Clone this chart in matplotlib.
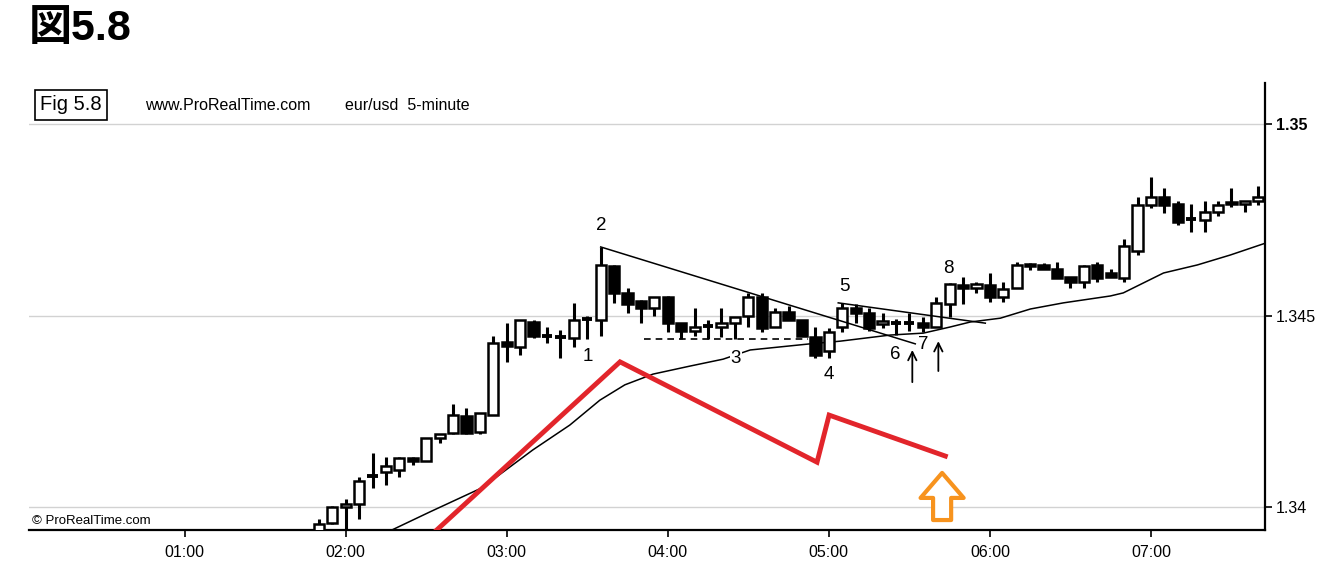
import matplotlib
matplotlib.use('Agg')
import matplotlib.pyplot as plt
import numpy as np

plt.rcParams['font.family'] = ['Liberation Sans', 'DejaVu Sans']

# 5-minute bars, first bar at 01:50 (minutes after midnight)
first_bar = 110
bar_step = 5

opens = [1.33935, 1.33958, 1.34000, 1.34008, 1.34082, 1.34091, 1.34097, 1.34128, 1.34120, 1.34180,
         1.34193, 1.34238, 1.34196, 1.34240, 1.34431, 1.34418, 1.34483, 1.34446, 1.34444, 1.34441,
         1.34491, 1.34488, 1.34629, 1.34559, 1.34538, 1.34520, 1.34548, 1.34480, 1.34460, 1.34473,
         1.34470, 1.34480, 1.34499, 1.34548, 1.34470, 1.34509, 1.34488, 1.34444, 1.34407, 1.34470,
         1.34520, 1.34507, 1.34478, 1.34481, 1.34481, 1.34480, 1.34470, 1.34530, 1.34580, 1.34572,
         1.34580, 1.34548, 1.34572, 1.34634, 1.34632, 1.34621, 1.34601, 1.34587, 1.34632, 1.34611,
         1.34598, 1.34668, 1.34789, 1.34809, 1.34791, 1.34752, 1.34749, 1.34770, 1.34796, 1.34791,
         1.34799]
highs = [1.33969, 1.34003, 1.34021, 1.34078, 1.34141, 1.34131, 1.34131, 1.34131, 1.34180, 1.34191,
         1.34269, 1.34258, 1.34245, 1.34446, 1.34480, 1.34488, 1.34488, 1.34470, 1.34462, 1.34533,
         1.34499, 1.34679, 1.34632, 1.34572, 1.34540, 1.34548, 1.34551, 1.34480, 1.34520, 1.34488,
         1.34520, 1.34496, 1.34559, 1.34559, 1.34520, 1.34525, 1.34488, 1.34470, 1.34467, 1.34533,
         1.34530, 1.34520, 1.34507, 1.34491, 1.34507, 1.34496, 1.34548, 1.34585, 1.34601, 1.34587,
         1.34611, 1.34587, 1.34640, 1.34637, 1.34637, 1.34640, 1.34601, 1.34632, 1.34640, 1.34621,
         1.34700, 1.34809, 1.34862, 1.34833, 1.34799, 1.34791, 1.34799, 1.34799, 1.34833, 1.34799,
         1.34838]
lows = [1.33930, 1.33956, 1.33930, 1.33969, 1.34050, 1.34057, 1.34078, 1.34110, 1.34120, 1.34167,
        1.34191, 1.34191, 1.34191, 1.34240, 1.34379, 1.34397, 1.34441, 1.34428, 1.34389, 1.34418,
        1.34439, 1.34446, 1.34533, 1.34507, 1.34480, 1.34499, 1.34457, 1.34439, 1.34446, 1.34439,
        1.34444, 1.34439, 1.34470, 1.34457, 1.34470, 1.34488, 1.34446, 1.34389, 1.34389, 1.34457,
        1.34480, 1.34460, 1.34467, 1.34449, 1.34460, 1.34457, 1.34470, 1.34496, 1.34530, 1.34559,
        1.34535, 1.34535, 1.34572, 1.34619, 1.34621, 1.34598, 1.34572, 1.34572, 1.34587, 1.34601,
        1.34587, 1.34658, 1.34781, 1.34768, 1.34736, 1.34718, 1.34718, 1.34760, 1.34783, 1.34770,
        1.34789]
closes = [1.33956, 1.34000, 1.34008, 1.34068, 1.34080, 1.34107, 1.34128, 1.34120, 1.34180, 1.34191,
          1.34240, 1.34193, 1.34245, 1.34428, 1.34420, 1.34488, 1.34446, 1.34445, 1.34443, 1.34488,
          1.34490, 1.34632, 1.34559, 1.34530, 1.34520, 1.34548, 1.34480, 1.34460, 1.34470, 1.34472,
          1.34480, 1.34496, 1.34548, 1.34467, 1.34509, 1.34488, 1.34446, 1.34397, 1.34457, 1.34520,
          1.34507, 1.34467, 1.34486, 1.34480, 1.34480, 1.34470, 1.34533, 1.34582, 1.34572, 1.34582,
          1.34548, 1.34569, 1.34632, 1.34629, 1.34621, 1.34598, 1.34587, 1.34629, 1.34598, 1.34601,
          1.34681, 1.34789, 1.34809, 1.34789, 1.34744, 1.34751, 1.34770, 1.34789, 1.34792, 1.34799,
          1.34809]

# moving average as drawn on the chart
ma_times = [137.2, 151.3, 170.7, 189.7, 203.5, 214.7, 224.0, 234.5, 248.3, 260.6, 270.7, 293.0,
            304.2, 322.9, 335.2, 345.2, 352.7, 363.9, 375.1, 387.4, 404.9, 409.7, 417.2, 424.7,
            437.3, 449.6, 462.7]
ma_values = [1.33940, 1.33987, 1.34050, 1.34149, 1.34214, 1.34279, 1.34319, 1.34347, 1.34368,
             1.34386, 1.34410, 1.34426, 1.34433, 1.34449, 1.34454, 1.34470, 1.34483, 1.34493,
             1.34517, 1.34533, 1.34551, 1.34559, 1.34585, 1.34611, 1.34632, 1.34658, 1.34689]

# annotations
trend1_t = [215.0, 332.2]
trend1_p = [1.34679, 1.34426]
trend2_t = [303.5, 358.3]
trend2_p = [1.34533, 1.34480]
support_t = [231.1, 292.3]
support_p = [1.34439, 1.34439]
red_t = [153.9, 222.2, 295.6, 300.1, 343.4]
red_p = [1.33940, 1.34379, 1.34117, 1.34240, 1.34133]

labels = ['1', '2', '3', '4', '5', '6', '7', '8']
label_t = [210.2, 215.1, 265.4, 300.1, 305.7, 324.7, 335.2, 344.5]
label_p = [1.34392, 1.34736, 1.34389, 1.34347, 1.34577, 1.34399, 1.34423, 1.34624]

up_arrow_t = [331.1, 340.8]
up_arrow_from = [1.34326, 1.34355]
up_arrow_to = [1.34410, 1.34433]

hour_ticks = [60, 120, 180, 240, 300, 360, 420]
hour_labels = ['01:00', '02:00', '03:00', '04:00', '05:00', '06:00', '07:00']
price_ticks = [1.34, 1.345, 1.35]
price_labels = ['1.34', '1.345', '1.35']

W, H = 1339, 578
fig = plt.figure(figsize=(W / 100, H / 100), dpi=100)
ax = fig.add_axes([29 / W, 48 / H, (1265 - 29) / W, (530 - 83) / H])

t = first_bar + bar_step * np.arange(len(opens))
o = np.array(opens)
c = np.array(closes)
body_w = 3.8

# wicks
ax.vlines(t, lows, highs, color='black', lw=2.2, zorder=2)

# bodies
doji = np.abs(c - o) < 0.00002
up = (c >= o) & ~doji
down = (c < o) & ~doji
ax.bar(t[up], (c - o)[up], bottom=o[up], width=body_w, facecolor='white',
       edgecolor='black', linewidth=1.8, zorder=3)
ax.bar(t[down], (o - c)[down], bottom=c[down], width=body_w, facecolor='black',
       edgecolor='black', linewidth=1.8, zorder=3)
ax.hlines(o[doji], t[doji] - body_w / 2, t[doji] + body_w / 2, color='black', lw=2.8, zorder=3)

# moving average and lines
ax.plot(ma_times, ma_values, color='black', lw=1.1, zorder=2)
ax.plot(trend1_t, trend1_p, color='black', lw=1.1, zorder=4)
ax.plot(trend2_t, trend2_p, color='black', lw=1.1, zorder=4)
ax.plot(support_t, support_p, color='black', lw=1.2, ls=(0, (4, 3)), zorder=2)
ax.plot(red_t, red_p, color='#e2252b', lw=3.5, zorder=5, solid_joinstyle='miter')

for lab, lt, lp in zip(labels, label_t, label_p):
    ax.text(lt, lp, lab, fontsize=13.5, ha='center', va='center', zorder=6,
            bbox=dict(facecolor='white', edgecolor='none', pad=0.5))

for at, a0, a1 in zip(up_arrow_t, up_arrow_from, up_arrow_to):
    ax.annotate('', xy=(at, a1), xytext=(at, a0),
                arrowprops=dict(arrowstyle='->,head_length=0.6,head_width=0.3',
                                color='black', lw=1.3, shrinkA=0, shrinkB=0))

# orange hollow arrow
ax.annotate('', xy=(342.2, 1.34089), xytext=(342.2, 1.33966),
            arrowprops=dict(arrowstyle='simple,head_length=18,head_width=31,tail_width=13',
                            mutation_scale=1, fc='white', ec='#f7931e', lw=3,
                            shrinkA=0, shrinkB=0), zorder=6)

ax.set_xlim(2, 462.5)
ax.set_ylim(1.33940, 1.35107)

ax.yaxis.tick_right()
ax.set_yticks(price_ticks)
ax.set_yticklabels(price_labels)
ax.get_yticklabels()[2].set_fontweight('bold')
ax.set_xticks(hour_ticks)
ax.set_xticklabels(hour_labels)
ax.tick_params(axis='both', direction='out', length=5, width=1.2, labelsize=11.5, colors='black')
ax.tick_params(axis='y', pad=3)
ax.tick_params(axis='x', pad=6)

ax.set_axisbelow(True)
ax.yaxis.grid(True, color='#d2d2d2', lw=1)
for side in ['top', 'left']:
    ax.spines[side].set_visible(False)
for side in ['right', 'bottom']:
    ax.spines[side].set_linewidth(1.6)

# header texts
fig.text(29 / W, 1 - 29 / H, '図5.8', fontsize=31, va='center', fontweight='bold',
         family=['Liberation Sans', 'Noto Sans CJK JP'])
fig.text(40 / W, 1 - 105 / H, 'Fig 5.8', fontsize=14.5, va='center',
         bbox=dict(boxstyle='square,pad=0.25', facecolor='white', edgecolor='black', lw=1.2))
fig.text(145 / W, 1 - 106 / H, 'www.ProRealTime.com', fontsize=11.5, va='center')
fig.text(345 / W, 1 - 106 / H, 'eur/usd  5-minute', fontsize=11.5, va='center')
fig.text(32 / W, 1 - 521 / H, '© ProRealTime.com', fontsize=9.5, va='center')

fig.savefig('out.png', dpi=100)
